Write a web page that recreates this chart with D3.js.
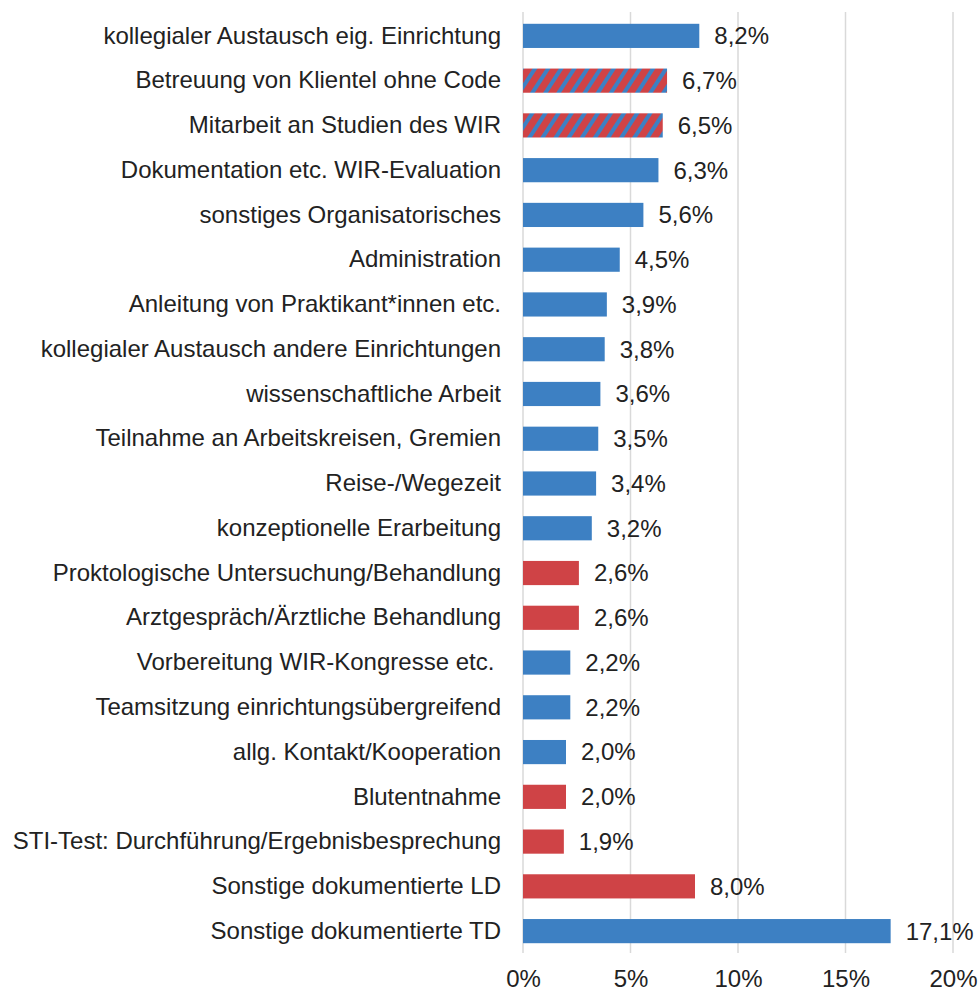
<!DOCTYPE html>
<html>
<head>
<meta charset="utf-8">
<script src="https://cdn.jsdelivr.net/npm/d3@7"></script>
<style>
  body { margin: 0; background: #fff; }
  text { font-family: "Liberation Sans", Arial, sans-serif; fill: #222; }
</style>
</head>
<body>
<div id="chart"></div>
<script>
// categories, top to bottom
var categories = [
  "kollegialer Austausch eig. Einrichtung",
  "Betreuung von Klientel ohne Code",
  "Mitarbeit an Studien des WIR",
  "Dokumentation etc. WIR-Evaluation",
  "sonstiges Organisatorisches",
  "Administration",
  "Anleitung von Praktikant*innen etc.",
  "kollegialer Austausch andere Einrichtungen",
  "wissenschaftliche Arbeit",
  "Teilnahme an Arbeitskreisen, Gremien",
  "Reise-/Wegezeit",
  "konzeptionelle Erarbeitung",
  "Proktologische Untersuchung/Behandlung",
  "Arztgespräch/Ärztliche Behandlung",
  "Vorbereitung WIR-Kongresse etc. ",
  "Teamsitzung einrichtungsübergreifend",
  "allg. Kontakt/Kooperation",
  "Blutentnahme",
  "STI-Test: Durchführung/Ergebnisbesprechung",
  "Sonstige dokumentierte LD",
  "Sonstige dokumentierte TD"
];

// share in percent
var values = [8.2, 6.7, 6.5, 6.3, 5.6, 4.5, 3.9, 3.8, 3.6, 3.5, 3.4, 3.2,
              2.6, 2.6, 2.2, 2.2, 2.0, 2.0, 1.9, 8.0, 17.1];

// TD = blue, LD = red, mix = striped
var kinds = ["TD", "mix", "mix", "TD", "TD", "TD", "TD", "TD", "TD", "TD", "TD", "TD",
             "LD", "LD", "TD", "TD", "TD", "LD", "LD", "LD", "TD"];

var xTicks = [0, 5, 10, 15, 20];

var data = categories.map(function(c, i) {
  return { name: c, value: values[i], kind: kinds[i] };
});

var svgWidth = 978;
var svgHeight = 992;

var blue = "#3d80c3";
var red = "#cf4346";
var fontSize = 24;

var svg = d3.select("#chart")
  .append("svg")
  .attr("width", svgWidth)
  .attr("height", svgHeight);

// striped pattern for the mixed bars
var defs = svg.append("defs");
var pattern = defs.append("pattern")
  .attr("id", "stripes")
  .attr("patternUnits", "userSpaceOnUse")
  .attr("width", 11)
  .attr("height", 11)
  .attr("patternTransform", "rotate(33)");
pattern.append("rect")
  .attr("width", 11)
  .attr("height", 11)
  .attr("fill", red);
pattern.append("rect")
  .attr("width", 4)
  .attr("height", 11)
  .attr("fill", blue);

var xScale = d3.scaleLinear()
  .domain([0, 20])
  .range([523, 953]);

var yScale = d3.scaleBand()
  .domain(categories)
  .range([13.5, 953.5])
  .paddingInner(0.46)
  .paddingOuter(0.23);

// gridlines
svg.append("g")
  .selectAll("line")
  .data(xTicks)
  .enter()
  .append("line")
  .attr("x1", d => xScale(d))
  .attr("x2", d => xScale(d))
  .attr("y1", 12)
  .attr("y2", 953)
  .attr("stroke", "#d9d9d9")
  .attr("stroke-width", 1.5);

// x axis tick labels
var xAxis = d3.axisBottom(xScale)
  .tickValues(xTicks)
  .tickSize(0)
  .tickPadding(0)
  .tickFormat(d => d + "%");

svg.append("g")
  .attr("transform", "translate(0, 970)")
  .call(xAxis)
  .call(g => g.select(".domain").remove())
  .selectAll("text")
  .attr("font-size", fontSize)
  .attr("font-family", "Liberation Sans, Arial, sans-serif")
  .attr("fill", "#222");

// bars
svg.append("g")
  .selectAll("rect")
  .data(data)
  .enter()
  .append("rect")
  .attr("x", xScale(0))
  .attr("y", d => yScale(d.name))
  .attr("width", d => xScale(d.value) - xScale(0))
  .attr("height", yScale.bandwidth())
  .attr("fill", d => d.kind === "TD" ? blue : d.kind === "LD" ? red : "url(#stripes)");

// category labels
var yAxis = d3.axisLeft(yScale)
  .tickSize(0)
  .tickPadding(0);

svg.append("g")
  .attr("transform", "translate(501, 0)")
  .call(yAxis)
  .call(g => g.select(".domain").remove())
  .selectAll("text")
  .attr("font-size", fontSize)
  .attr("font-family", "Liberation Sans, Arial, sans-serif")
  .attr("fill", "#222")
  .style("white-space", "pre");

// value labels
svg.append("g")
  .selectAll("text")
  .data(data)
  .enter()
  .append("text")
  .attr("x", d => xScale(d.value) + 15)
  .attr("y", d => yScale(d.name) + yScale.bandwidth() / 2)
  .attr("dy", "0.35em")
  .attr("font-size", fontSize)
  .text(d => d3.format(".1f")(d.value).replace(".", ",") + "%");
</script>
</body>
</html>
